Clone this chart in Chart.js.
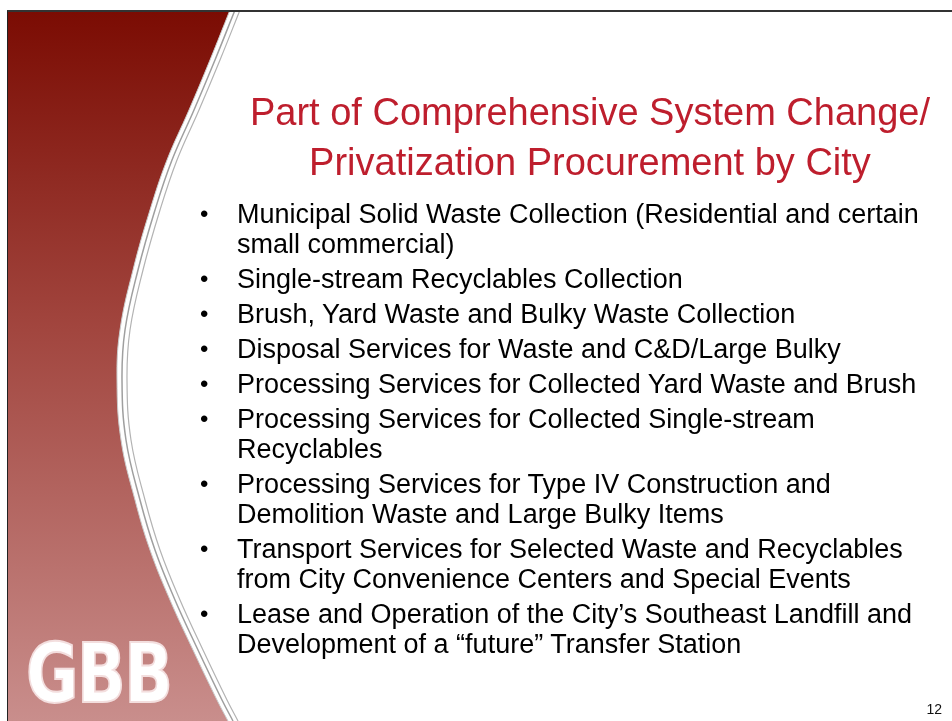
<!DOCTYPE html>
<html>
<head>
<meta charset="utf-8">
<script src="https://cdn.jsdelivr.net/npm/chart.js@4/dist/chart.umd.min.js"></script>
<style>
  html, body { margin:0; padding:0; background:#fff; }
  body { width:952px; height:721px; position:relative; overflow:hidden;
         font-family:"Liberation Sans", Arial, sans-serif; }
  #frame { position:absolute; left:7px; top:10px; width:945px; height:711px;
           border-left:1px solid #222; border-top:2px solid #333; box-sizing:border-box; }
  #deco { position:absolute; left:8px; top:12px; }
  #title { position:absolute; left:240px; top:87px; width:700px; text-align:center;
           color:#be1e2d; font-size:38px; line-height:50px; white-space:nowrap; }
  #items { position:absolute; left:200px; top:199px; margin:0; padding:0; list-style:none;
           font-size:27px; line-height:30px; color:#000; white-space:nowrap; }
  #items li { position:relative; padding-left:37px; margin-bottom:5px; }
  #items li::before { content:"\2022"; position:absolute; left:0; top:0; font-size:24px; }
  #logo { position:absolute; left:26px; top:626px; font-family:"DejaVu Sans", sans-serif;
          font-weight:bold; font-size:82px; color:#fff; transform:scaleX(0.78);
          transform-origin:left top; -webkit-text-stroke:2px #f3dede; letter-spacing:-2px; }
  #page { position:absolute; right:10px; top:701px; font-size:14px; color:#111; }
</style>
</head>
<body>
<div id="frame"></div>
<canvas id="deco" width="944" height="709"></canvas>
<div id="title"></div>
<ul id="items"></ul>
<div id="logo">GBB</div>
<div id="page">12</div>
<script>
// slide content
const titleLines = ['Part of Comprehensive System Change/', 'Privatization Procurement by City'];
const bulletItems = [
  ['Municipal Solid Waste Collection (Residential and certain', 'small commercial)'],
  ['Single-stream Recyclables Collection'],
  ['Brush, Yard Waste and Bulky Waste Collection'],
  ['Disposal Services for Waste and C&D/Large Bulky'],
  ['Processing Services for Collected Yard Waste and Brush'],
  ['Processing Services for Collected Single-stream', 'Recyclables'],
  ['Processing Services for Type IV Construction and', 'Demolition Waste and Large Bulky Items'],
  ['Transport Services for Selected Waste and Recyclables', 'from City Convenience Centers and Special Events'],
  ['Lease and Operation of the City\u2019s Southeast Landfill and', 'Development of a \u201cfuture\u201d Transfer Station']
];

// left band edge (page pixels)
const edgeY = [0, 10, 60, 110, 160, 210, 270, 330, 380, 440, 500, 550, 600, 650, 700, 721, 740];
const edgeX = [234, 230, 210, 189, 167, 150, 133, 120, 117, 121, 135, 150, 170, 193, 217, 228, 238];

document.addEventListener("DOMContentLoaded", function(){
  const title = document.getElementById('title');
  titleLines.forEach(t => {
    const d = document.createElement('div');
    d.textContent = t;
    title.appendChild(d);
  });
  const list = document.getElementById('items');
  bulletItems.forEach(lines => {
    const li = document.createElement('li');
    lines.forEach((l, i) => {
      if (i) li.appendChild(document.createElement('br'));
      li.appendChild(document.createTextNode(l));
    });
    list.appendChild(li);
  });

  const pts = (off) => edgeY.map((y, i) => ({x: edgeX[i] + off, y: y}));

  new Chart(document.getElementById('deco'), {
    type: 'line',
    data: {
      datasets: [
        { data: pts(0), fill: {value: 8}, borderWidth: 1, borderColor: '#c9c9c9',
          backgroundColor: function(ctx){
            const a = ctx.chart.chartArea;
            if (!a) return '#9a3a33';
            const g = ctx.chart.ctx.createLinearGradient(0, a.top, 0, a.bottom);
            g.addColorStop(0, '#7b0c03');
            g.addColorStop(0.45, '#a2463f');
            g.addColorStop(1, '#c98e8c');
            return g;
          } },
        { data: pts(5), fill: false, borderWidth: 1.5, borderColor: '#9f9f9f' },
        { data: pts(10), fill: false, borderWidth: 1.2, borderColor: '#b3b3b3' }
      ]
    },
    options: {
      indexAxis: 'y',
      responsive: false,
      animation: false,
      events: [],
      layout: { padding: 0 },
      elements: { point: { radius: 0 }, line: { tension: 0.4 } },
      plugins: { legend: { display: false }, tooltip: { enabled: false } },
      scales: {
        x: { type: 'linear', min: 8, max: 952, display: false },
        y: { type: 'linear', min: 12, max: 721, reverse: true, display: false }
      }
    }
  });
});
</script>
</body>
</html>
